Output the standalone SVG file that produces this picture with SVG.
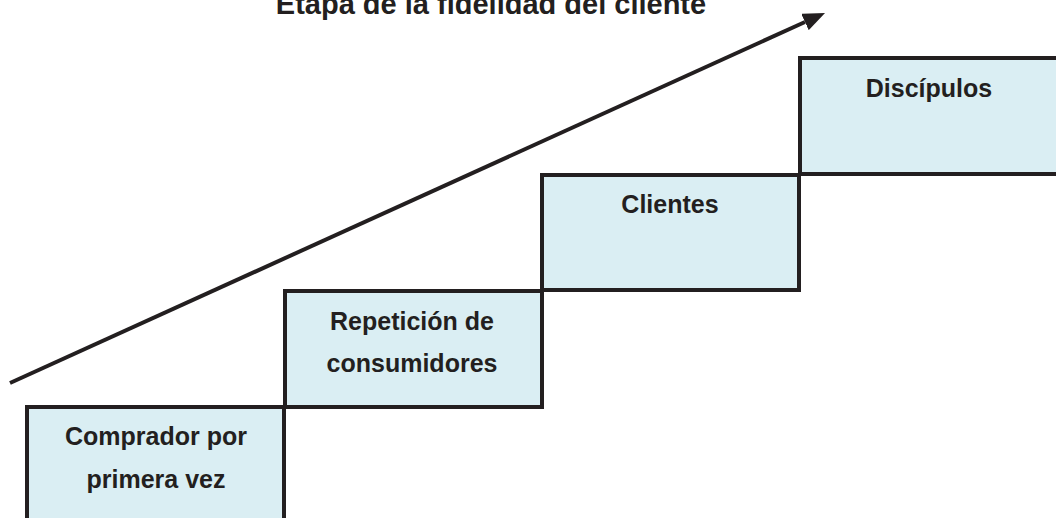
<svg xmlns="http://www.w3.org/2000/svg" width="1056" height="518" viewBox="0 0 1056 518">
<style>
.box{fill:#daeef3;stroke:#231f20;stroke-width:4}
.lbl{font-family:"Liberation Sans",Arial,sans-serif;font-weight:bold;font-size:25px;fill:#231f20;text-anchor:middle}
.title{font-family:"Liberation Sans",Arial,sans-serif;font-weight:bold;font-size:29px;fill:#231f20;text-anchor:middle}
.conn{stroke:#231f20;stroke-width:4;fill:none}
</style>
<defs>
<marker id="ah" markerUnits="userSpaceOnUse" markerWidth="24" markerHeight="18" refX="0" refY="9" viewBox="0 0 24 18" orient="auto">
<path d="M0,0 L22,9 L0,18 z" fill="#231f20"/>
</marker>
</defs>
<rect width="1056" height="518" fill="#ffffff"/>
<text class="title" x="491" y="14">Etapa de la fidelidad del cliente</text>
<g id="connectors">
<line class="conn" x1="10" y1="383" x2="805" y2="22" marker-end="url(#ah)"/>
</g>
<g id="node1">
<rect class="box" x="27" y="407" width="257" height="120"/>
<text class="lbl" x="156" y="445">Comprador por</text>
<text class="lbl" x="156" y="488">primera vez</text>
</g>
<g id="node2">
<rect class="box" x="285" y="291" width="257" height="116"/>
<text class="lbl" x="412" y="330">Repetición de</text>
<text class="lbl" x="412" y="372">consumidores</text>
</g>
<g id="node3">
<rect class="box" x="542" y="175" width="257" height="115"/>
<text class="lbl" x="670" y="213">Clientes</text>
</g>
<g id="node4">
<rect class="box" x="800" y="58" width="262" height="116"/>
<text class="lbl" x="929" y="97">Discípulos</text>
</g>
</svg>
